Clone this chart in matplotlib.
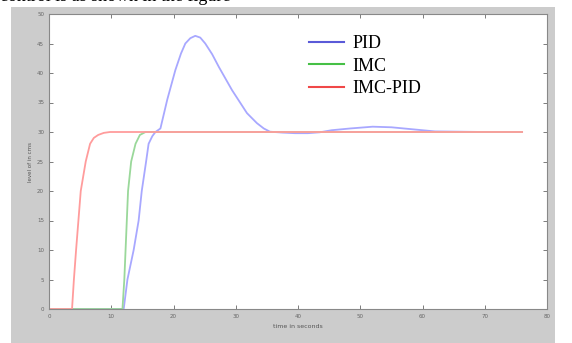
import matplotlib
matplotlib.use("Agg")
import matplotlib.pyplot as plt
from matplotlib.lines import Line2D

# values
t_pid = [0, 12.0, 12.6, 13.6, 14.4, 14.9, 15.6, 16.0, 16.6, 17.1, 17.9, 19.0, 20.3,
         21.2, 21.9, 22.7, 23.5, 24.3, 25.1, 26.2, 27.3, 29.4, 31.8, 33.4, 34.5,
         35.5, 37.5, 39.5, 41.6, 43.5, 45.4, 48.4, 52.0, 55.0, 58.0, 62.0, 70.0,
         76.0]
y_pid = [0, 0, 5, 10, 15, 20, 25, 28, 29.3, 30, 30.6, 35.5, 40.5,
         43.3, 45.0, 45.9, 46.3, 46.0, 45.0, 43.2, 41.0, 37.1, 33.2, 31.5, 30.6,
         30.05, 29.9, 29.8, 29.8, 29.95, 30.3, 30.6, 30.9, 30.8, 30.5, 30.1, 30.0,
         30.0]

t_imc = [0, 11.8, 12.1, 12.3, 12.7, 13.2, 13.9, 14.6, 15.5, 20, 40, 60, 76]
y_imc = [0, 0, 5, 10, 20, 25, 28, 29.5, 30, 30, 30, 30, 30]

t_imcpid = [0, 3.7, 4.0, 4.35, 5.1, 5.9, 6.6, 7.2, 7.9, 8.8, 9.8, 20, 40, 60, 76]
y_imcpid = [0, 0, 5, 10, 20, 25, 28, 29.0, 29.5, 29.85, 30, 30, 30, 30, 30]

labels = ["PID", "IMC", "IMC-PID"]
line_colors = ["#a8a8ff", "#9ad89a", "#ff9c9c"]
legend_colors = ["#5a5ad8", "#46c046", "#f04848"]

fig = plt.figure(figsize=(5.72, 3.43), dpi=100)
fig.patch.set_facecolor("white")

# grey window background behind the axes
bg = fig.add_axes([11 / 572, 0, 544 / 572, 1 - 7 / 343], zorder=-5)
bg.set_facecolor("#cccccc")
bg.set_xticks([])
bg.set_yticks([])
for s in bg.spines.values():
    s.set_visible(False)

fig.text(0.0, 1.012, "control is as shown in the figure", fontsize=13,
         family="Liberation Serif", va="center", ha="left")

ax = fig.add_axes([49 / 572, 1 - 309 / 343, 498 / 572, 295 / 343], zorder=1)
ax.set_facecolor("white")

ax.plot(t_pid, y_pid, color=line_colors[0], lw=1.3)
ax.plot(t_imc, y_imc, color=line_colors[1], lw=1.3)
ax.plot(t_imcpid, y_imcpid, color=line_colors[2], lw=1.3)

ax.set_xlim(0, 80)
ax.set_ylim(0, 50)
ax.set_xticks(range(0, 81, 10))
ax.set_yticks(range(0, 51, 5))
ax.tick_params(direction="in", top=True, right=True, labelsize=4,
               colors="#666666", length=3, width=0.6)
for s in ax.spines.values():
    s.set_color("#888888")
    s.set_linewidth(0.8)
ax.set_xlabel("time in seconds", fontsize=4.5, color="#555555", labelpad=4)
ax.set_ylabel("level of in cms", fontsize=4, color="#555555", labelpad=3)

handles = [Line2D([0], [0], color=c, lw=1.5) for c in legend_colors]
leg = ax.legend(handles, labels, loc="upper left", bbox_to_anchor=(0.49, 0.983),
                frameon=False, prop={"family": "Liberation Serif", "size": 13},
                handlelength=1.95, handletextpad=0.45, labelspacing=0.3)

fig.savefig("out.png", dpi=100)
